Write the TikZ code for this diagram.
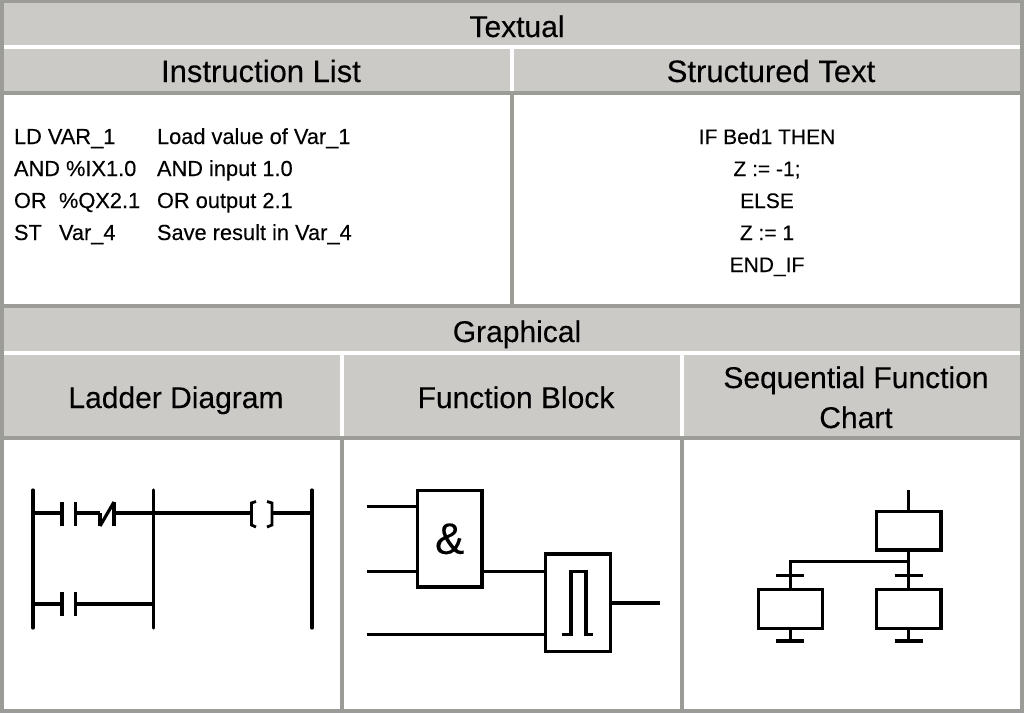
\documentclass[tikz,border=0pt]{standalone}
\usepackage{fontspec}
\setmainfont[FakeBold=0.2]{Liberation Sans}
\definecolor{edge}{HTML}{9B9B97}
\definecolor{head}{HTML}{CBCAC6}
\tikzset{
 x=1pt,y=-1pt,
 headcell/.style={fill=head,draw=none,inner sep=0,outer sep=0},
 bodycell/.style={fill=white,draw=none,inner sep=0,outer sep=0},
 title/.style={inner sep=0,outer sep=0,anchor=base,font=\fontsize{30}{40}\selectfont},
 titlewide/.style={inner sep=0,outer sep=0,anchor=base,font=\fontsize{31}{40}\selectfont},
 code/.style={inner sep=0,outer sep=0,anchor=base west,font=\fontsize{21.8}{24}\selectfont},
 codec/.style={inner sep=0,outer sep=0,anchor=base,font=\fontsize{21}{24}\selectfont},
 sym/.style={draw=black,line width=3.2pt,fill=white,inner sep=0,outer sep=0,minimum width=0pt,minimum height=0pt},
 wire/.style={draw=black,line width=3.2pt},
}
\begin{document}
\begin{tikzpicture}
\useasboundingbox (0,0) rectangle (1024,713);
\fill[edge] (0,0) rectangle (1024,713);
% header cells
\fill[white] (4,45) rectangle (1020,49);
\node[headcell,minimum width=1016pt,minimum height=42pt,anchor=north west] (textual) at (4,3) {};
\node[title] (textualT) at (517,37) {Textual};
\fill[white] (510,49) rectangle (514,91);
\node[headcell,minimum width=506pt,minimum height=42pt,anchor=north west] (il) at (4,49) {};
\node[titlewide] (ilT) at (261,82) {Instruction List};
\node[headcell,minimum width=506pt,minimum height=42pt,anchor=north west] (st) at (514,49) {};
\node[titlewide] (stT) at (771,82) {Structured Text};
\node[bodycell,minimum width=506pt,minimum height=209pt,anchor=north west] (ilb) at (4,95) {};
\node[bodycell,minimum width=506pt,minimum height=209pt,anchor=north west] (stb) at (514,95) {};
% code
\node[code] (c1a) at (14,144) {LD VAR\_1};
\node[code] (c1b) at (157,144) {Load value of Var\_1};
\node[code] (c2a) at (14,176) {AND \%IX1.0};
\node[code] (c2b) at (157,176) {AND input 1.0};
\node[code] (c3a) at (14,208) {OR};
\node[code] (c3c) at (59,208) {\%QX2.1};
\node[code] (c3b) at (157,208) {OR output 2.1};
\node[code] (c4a) at (14,240) {ST};
\node[code] (c4c) at (59,240) {Var\_4};
\node[code] (c4b) at (157,240) {Save result in Var\_4};
\node[codec] (s1) at (767,144) {IF Bed1 THEN};
\node[codec] (s2) at (767,176) {Z := -1;};
\node[codec] (s3) at (767,208) {ELSE};
\node[codec] (s4) at (767,240) {Z := 1};
\node[codec] (s5) at (767,272) {END\_IF};
% graphical
\fill[white] (4,351) rectangle (1020,355);
\node[headcell,minimum width=1016pt,minimum height=43pt,anchor=north west] (gr) at (4,308) {};
\node[title] (grT) at (517,342) {Graphical};
\fill[white] (340,355) rectangle (344,436);
\fill[white] (680,355) rectangle (684,436);
\node[headcell,minimum width=336pt,minimum height=81pt,anchor=north west] (ld) at (4,355) {};
\node[title] (ldT) at (176,408) {Ladder Diagram};
\node[headcell,minimum width=336pt,minimum height=81pt,anchor=north west] (fb) at (344,355) {};
\node[title] (fbT) at (516,408) {Function Block};
\node[headcell,minimum width=336pt,minimum height=81pt,anchor=north west] (sf) at (684,355) {};
\node[title] (sfT) at (856,388) {Sequential Function};
\node[title] (sfU) at (856,428) {Chart};
\node[bodycell,minimum width=336pt,minimum height=269pt,anchor=north west] (ldb) at (4,440) {};
\node[bodycell,minimum width=336pt,minimum height=269pt,anchor=north west] (fbb) at (344,440) {};
\node[bodycell,minimum width=336pt,minimum height=269pt,anchor=north west] (sfb) at (684,440) {};
% ladder
\coordinate (r1t) at (33,490); \coordinate (r1b) at (33,628);
\coordinate (r2t) at (153.5,490); \coordinate (r2b) at (153.5,628);
\coordinate (r3t) at (312,490); \coordinate (r3b) at (312,628);
\draw[wire,line cap=round] (r1t) -- (r1b);
\draw[wire,line cap=round] (r2t) -- (r2b);
\draw[wire,line cap=round] (r3t) -- (r3b);
\coordinate (a1) at (62,513); \coordinate (a2) at (75.5,513);
\coordinate (a3) at (100,513); \coordinate (a4) at (114,513);
\coordinate (cl) at (251,513); \coordinate (cr) at (273,513);
\draw[wire] (r1t |- a1) -- (a1);
\draw[wire] (a2) -- (a3);
\draw[wire] (a4) -- (r2t |- a4);
\draw[wire] (r2t |- cl) -- (cl);
\draw[wire] (cr) -- (r3t |- cr);
\draw[wire] (62,502) -- (62,526);
\draw[wire] (75.5,502) -- (75.5,526);
\draw[wire] (100,513) -- (100,526);
\draw[wire] (114,502) -- (114,526);
\draw[wire] (100,526) -- (114,502);
\draw[wire,line width=2.8pt] (256,501.5) -- (251.5,503) -- (251.5,525) -- (256,527);
\draw[wire,line width=2.8pt] (267,501.5) -- (272,503) -- (272,525) -- (267,527);
\coordinate (b1) at (62,604); \coordinate (b2) at (75.5,604);
\draw[wire] (r1t |- b1) -- (b1);
\draw[wire] (b2) -- (r2t |- b2);
\draw[wire] (62,592) -- (62,616);
\draw[wire] (75.5,592) -- (75.5,616);
% function block
\node[sym,minimum width=64.5pt,minimum height=96.5pt,font=\fontsize{44}{44}\selectfont] (and) at (449.7,538.8) {\&};
\node[sym,minimum width=64.5pt,minimum height=97.3pt] (pulse) at (578,602.7) {};
\coordinate (i1) at (367,506.7); \coordinate (i2) at (367,571.5); \coordinate (i3) at (367,634.3); \coordinate (o1) at (660,603);
\draw[wire] (i1) -- (i1 -| and.west);
\draw[wire] (i2) -- (i2 -| and.west);
\draw[wire] (i2 -| and.east) -- (i2 -| pulse.west);
\draw[wire] (i3) -- (i3 -| pulse.west);
\draw[wire] (pulse.east |- o1) -- (o1);
\draw[wire,line join=miter] (561.7,634.3) -- (571,634.3) -- (571,571.3) -- (586,571.3) -- (586,634.3) -- (593.3,634.3);
% sfc
\node[sym,minimum width=64.7pt,minimum height=38.7pt] (s1b) at (908.6,530.6) {};
\node[sym,minimum width=64.7pt,minimum height=39pt] (s2b) at (908.6,609.2) {};
\node[sym,minimum width=64.4pt,minimum height=39pt] (s3b) at (790.5,609.2) {};
\coordinate (top) at (908.6,490);
\coordinate (bus) at (790.5,561.3);
\coordinate (tk1) at (790.5,641.3);
\coordinate (tk2) at (908.6,641.3);
\draw[wire] (top) -- (s1b.north);
\draw[wire] (s1b.south) -- (s2b.north);
\draw[wire] (908.6,561.3) -- (bus) -- (s3b.north);
\draw[wire] (776.3,575.7) -- (804.3,575.7);
\draw[wire] (894.6,575.7) -- (922.6,575.7);
\draw[wire] (s3b.south) -- (tk1);
\draw[wire] (s2b.south) -- (tk2);
\draw[wire,line width=3.8pt] (776.3,641.3) -- (804.3,641.3);
\draw[wire,line width=3.8pt] (894.6,641.3) -- (922.6,641.3);
\end{tikzpicture}
\end{document}
